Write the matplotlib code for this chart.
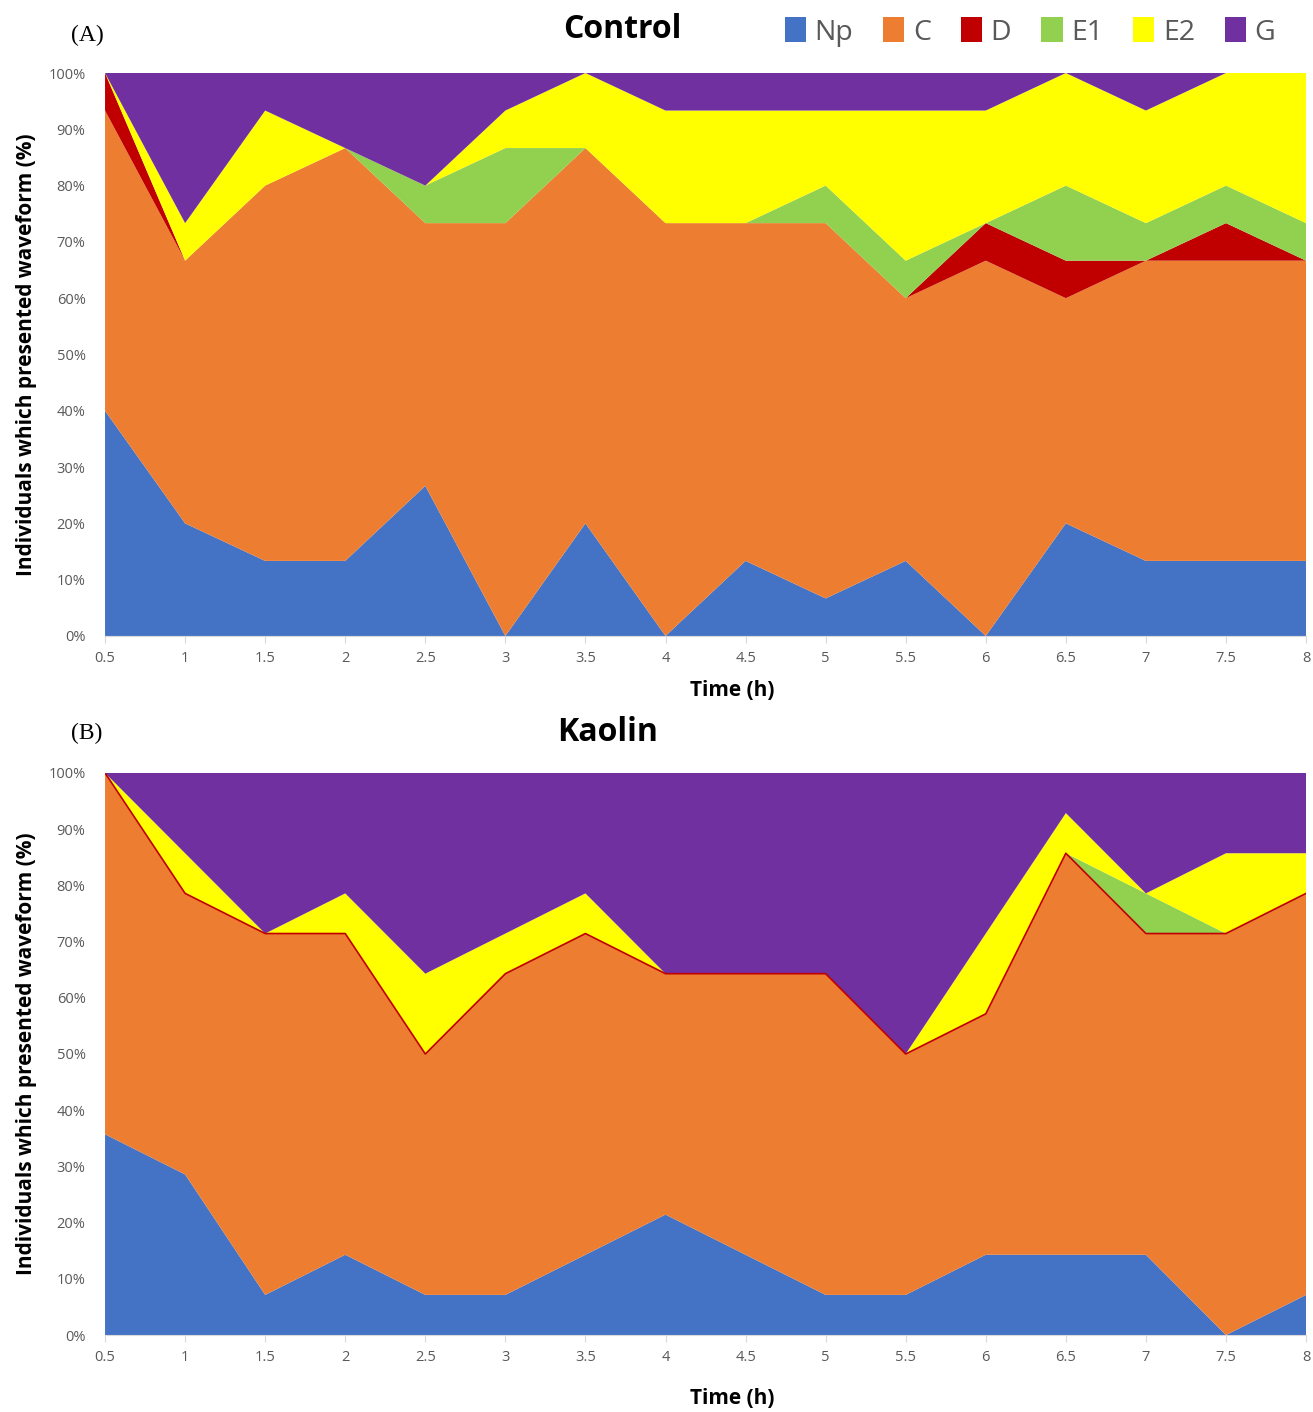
import numpy as np
import matplotlib
matplotlib.use("Agg")
import matplotlib.pyplot as plt
from matplotlib.patches import Patch

plt.rcParams['font.family'] = ['Open Sans', 'DejaVu Sans']

time = [0.5, 1, 1.5, 2, 2.5, 3, 3.5, 4, 4.5, 5, 5.5, 6, 6.5, 7, 7.5, 8]
labels = ['Np', 'C', 'D', 'E1', 'E2', 'G']
colors = ['#4472C4', '#ED7D31', '#C00000', '#92D050', '#FFFF00', '#7030A0']

# Control: number of individuals (out of 15) per waveform
ctrl_n = 15
ctrl_np = [6, 3, 2, 2, 4, 0, 3, 0, 2, 1, 2, 0, 3, 2, 2, 2]
ctrl_c  = [8, 7, 10, 11, 7, 11, 10, 11, 9, 10, 7, 10, 6, 8, 8, 8]
ctrl_d  = [1, 0, 0, 0, 0, 0, 0, 0, 0, 0, 0, 1, 1, 0, 1, 0]
ctrl_e1 = [0, 0, 0, 0, 1, 2, 0, 0, 0, 1, 1, 0, 2, 1, 1, 1]
ctrl_e2 = [0, 1, 2, 0, 0, 1, 2, 3, 3, 2, 4, 3, 3, 3, 3, 4]
ctrl_g  = [0, 4, 1, 2, 3, 1, 0, 1, 1, 1, 1, 1, 0, 1, 0, 0]

# Kaolin: number of individuals (out of 14) per waveform
kao_n = 14
kao_np = [5, 4, 1, 2, 1, 1, 2, 3, 2, 1, 1, 2, 2, 2, 0, 1]
kao_c  = [9, 7, 9, 8, 6, 8, 8, 6, 7, 8, 6, 6, 10, 8, 10, 10]
kao_d  = [0, 0, 0, 0, 0, 0, 0, 0, 0, 0, 0, 0, 0, 0, 0, 0]
kao_e1 = [0, 0, 0, 0, 0, 0, 0, 0, 0, 0, 0, 0, 0, 1, 0, 0]
kao_e2 = [0, 1, 0, 1, 2, 1, 1, 0, 0, 0, 0, 2, 1, 0, 2, 1]
kao_g  = [0, 2, 4, 3, 5, 4, 3, 5, 5, 5, 7, 4, 1, 3, 2, 2]

gray = '#595959'

fig = plt.figure(figsize=(13.13, 14.12), dpi=100)
ax1 = fig.add_axes([0.080, 0.5496, 0.9147, 0.3987])
ax2 = fig.add_axes([0.080, 0.0545, 0.9147, 0.3981])


def draw(ax, series, n):
    pct = [np.array(s) / n * 100 for s in series]
    ax.stackplot(time, *pct, colors=colors, linewidth=0)
    # Excel shows the empty D series as a thin red edge on top of C
    top_c = pct[0] + pct[1]
    if np.all(pct[2] == 0):
        ax.plot(time, top_c, color='#C00000', lw=1.2)
    ax.set_xlim(0.5, 8)
    ax.set_ylim(0, 100)
    ax.set_xticks(time)
    ax.set_xticklabels([('%g' % t) for t in time])
    ax.set_yticks(np.arange(0, 101, 10))
    ax.set_yticklabels(['%d%%' % v for v in range(0, 101, 10)])
    for s in ['top', 'right', 'left']:
        ax.spines[s].set_visible(False)
    ax.spines['bottom'].set_color('#D9D9D9')
    ax.tick_params(axis='x', colors=gray, labelsize=10.5, length=5, color='#D9D9D9', pad=6)
    ax.tick_params(axis='y', colors=gray, labelsize=10.5, length=0, pad=14)
    ax.set_ylabel('Individuals which presented waveform (%)', fontsize=15,
                  fontweight='bold', labelpad=8)


draw(ax1, [ctrl_np, ctrl_c, ctrl_d, ctrl_e1, ctrl_e2, ctrl_g], ctrl_n)
draw(ax2, [kao_np, kao_c, kao_d, kao_e1, kao_e2, kao_g], kao_n)

fig.text(732 / 1313, 1 - 690 / 1412, 'Time (h)', ha='center', va='center',
         fontsize=15, fontweight='bold')
fig.text(732 / 1313, 1 - 1398 / 1412, 'Time (h)', ha='center', va='center',
         fontsize=15, fontweight='bold')

fig.text(622 / 1313, 1 - 30 / 1412, 'Control', ha='center', va='center',
         fontsize=23, fontweight='bold')
fig.text(608 / 1313, 1 - 732 / 1412, 'Kaolin', ha='center', va='center',
         fontsize=23, fontweight='bold')

fig.text(87 / 1313, 1 - 35 / 1412, '(A)', ha='center', va='center',
         fontsize=17, family='Liberation Serif')
fig.text(87 / 1313, 1 - 733 / 1412, '(B)', ha='center', va='center',
         fontsize=17, family='Liberation Serif')

handles = [Patch(facecolor=c, edgecolor='none') for c in colors]
leg = fig.legend(handles, labels, loc='center', ncol=6,
                 bbox_to_anchor=(1030 / 1313, 1 - 32 / 1412), frameon=False,
                 fontsize=20.5, handlelength=0.75, handleheight=0.95,
                 handletextpad=0.3, columnspacing=1.05, borderpad=0.1)
for t in leg.get_texts():
    t.set_color(gray)

fig.savefig('out.png', dpi=100)
